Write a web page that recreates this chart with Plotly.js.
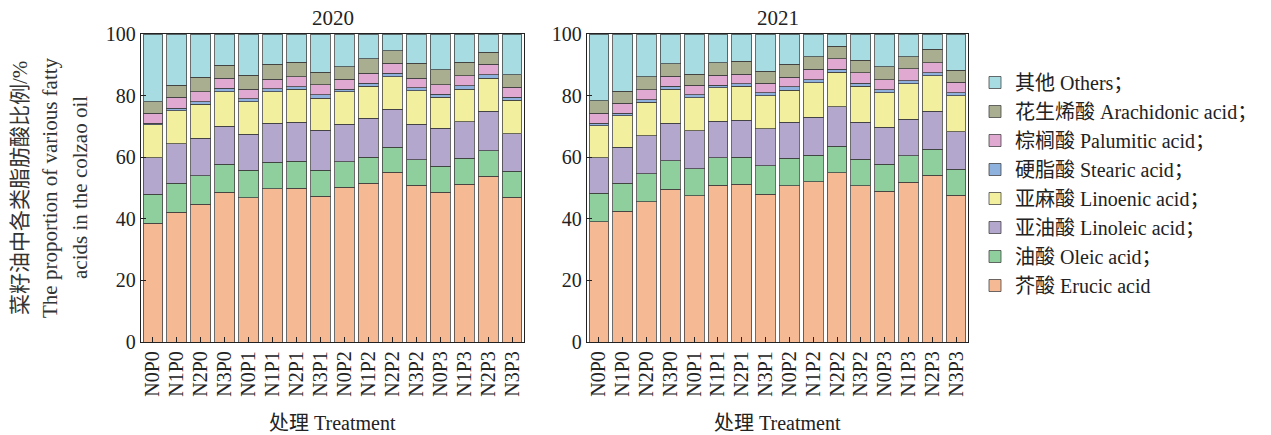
<!DOCTYPE html>
<html><head><meta charset="utf-8">
<script src="https://cdn.plot.ly/plotly-3.0.1.min.js"></script>
<style>html,body{margin:0;padding:0;background:#fff}#chart{width:1271px;height:435px}</style>
</head><body><div id="chart"></div>
<script>
const categories = ["N0P0","N1P0","N2P0","N3P0","N0P1","N1P1","N2P1","N3P1","N0P2","N1P2","N2P2","N3P2","N0P3","N1P3","N2P3","N3P3"];
const seriesNames = ["芥酸 Erucic acid","油酸 Oleic acid；","亚油酸 Linoleic acid；","亚麻酸 Linoenic acid；","硬脂酸 Stearic acid；","棕榈酸 Palumitic acid；","花生烯酸 Arachidonic acid；","其他 Others；"];
const panelTitles = ["2020","2021"];
const xTitle = "处理 Treatment";
const yTitleLines = ["菜籽油中各类脂肪酸比例/%","The proportion of various fatty","acids in the colzao oil"];

// 2020
const erucic2020 = [38.5,42.1,44.8,48.6,46.8,49.7,50.0,47.4,50.2,51.5,55.1,50.9,48.6,51.3,53.8,47.0];
const oleic2020  = [9.4,9.4,9.2,9.1,8.9,8.6,8.7,8.3,8.4,8.5,8.2,8.3,8.4,8.3,8.3,8.5];
const linoleic2020 = [11.9,12.8,12.1,12.4,11.7,12.7,12.6,13.0,12.1,12.6,12.3,11.5,12.4,11.9,12.9,12.1];
const linolenic2020 = [10.7,10.8,11.1,11.2,10.6,10.3,10.8,10.5,10.6,10.5,10.6,10.8,10.1,10.6,10.7,10.9];
const stearic2020 = [0.6,0.8,0.8,1.1,0.9,0.9,0.8,1.0,0.8,0.9,1.1,1.1,1.0,1.1,1.0,0.9];
const palmitic2020 = [3.2,3.5,3.3,3.3,3.2,3.1,3.3,3.3,3.2,3.3,3.2,3.1,3.0,3.2,3.5,3.3];
const arachidonic2020 = [3.7,3.9,4.6,4.1,4.5,4.9,4.7,4.1,4.1,4.6,4.0,4.8,4.9,4.5,3.9,4.0];
const others2020 = [22.0,16.7,14.1,10.2,13.4,9.8,9.1,12.4,10.6,8.1,5.5,9.5,11.6,9.1,5.9,13.3];

// 2021
const erucic2021 = [39.0,42.4,45.5,49.6,47.5,50.9,51.2,48.0,50.7,52.1,55.0,50.7,48.9,51.9,54.2,47.6];
const oleic2021  = [9.3,9.1,9.1,9.3,8.8,9.0,8.8,9.2,9.0,8.6,8.5,8.7,8.8,8.5,8.4,8.5];
const linoleic2021 = [11.6,11.8,12.3,12.2,12.3,11.7,12.0,12.0,11.7,12.3,12.9,12.0,12.1,12.0,12.3,12.2];
const linolenic2021 = [10.3,10.1,10.9,11.0,10.7,10.9,11.0,10.8,10.4,11.1,11.2,11.6,11.2,11.4,11.6,11.7];
const stearic2021 = [0.9,0.9,0.9,1.0,1.0,0.8,0.9,0.9,1.0,1.1,0.9,1.0,0.9,1.1,1.0,1.0];
const palmitic2021 = [3.2,3.2,3.2,3.2,3.0,3.3,3.1,3.1,3.1,3.3,3.4,3.4,3.3,3.8,3.2,3.4];
const arachidonic2021 = [4.0,3.9,4.2,4.1,3.7,4.0,4.1,3.9,4.2,4.1,4.1,4.0,4.1,3.9,4.3,3.8];
const others2021 = [21.7,18.6,13.9,9.6,13.0,9.4,8.9,12.1,9.9,7.4,4.0,8.6,10.7,7.4,5.0,11.8];

const colors = ["#f5b993","#8fcf9e","#b3a7cd","#f2f09e","#8fb1dd","#dfa9d2","#aaae91","#a7dde2"];

const data2020 = [erucic2020,oleic2020,linoleic2020,linolenic2020,stearic2020,palmitic2020,arachidonic2020,others2020];
const data2021 = [erucic2021,oleic2021,linoleic2021,linolenic2021,stearic2021,palmitic2021,arachidonic2021,others2021];

const W = 1271, H = 435;
const px = x => x / W;
const py = y => 1 - y / H;
const FONT = "Liberation Serif, Times New Roman, Noto Sans CJK SC, serif";

const traces = [];
[data2020, data2021].forEach((ds, p) => {
  ds.forEach((vals, i) => {
    traces.push({
      type: "bar",
      x: categories,
      y: vals,
      name: seriesNames[i],
      legendgroup: "g" + i,
      showlegend: p === 0,
      xaxis: p === 0 ? "x" : "x2",
      yaxis: p === 0 ? "y" : "y2",
      marker: {color: colors[i], line: {color: "rgba(60,60,60,0.75)", width: 1}},
      hoverinfo: "x+y+name"
    });
  });
});

const yTop = py(34), yBot = py(342);
const axisCommon = {
  showline: true, mirror: true, linecolor: "#222", linewidth: 1.2,
  ticks: "inside", ticklen: 5, tickcolor: "#222", showgrid: false, zeroline: false,
  tickfont: {family: FONT, size: 20, color: "#222"}
};
const xCommon = Object.assign({}, axisCommon, {
  type: "category", tickangle: -90, tickfont: {family: FONT, size: 20, color: "#222"},
  tickmode: "array", tickvals: categories, ticktext: categories,
  range: [-0.5, 15.5]
});
const yCommon = Object.assign({}, axisCommon, {range: [0, 100], tickmode: "array", tickvals: [0,20,40,60,80,100], domain: [yBot, yTop]});

const annotations = [];
const panels = [[141, 524], [587, 968]];
panels.forEach((d, p) => {
  const c = (d[0] + d[1]) / 2;
  annotations.push({xref: "paper", yref: "paper", x: px(c), y: py(18), text: panelTitles[p], showarrow: false,
    xanchor: "center", yanchor: "middle", font: {family: FONT, size: 21, color: "#222"}});
  annotations.push({xref: "paper", yref: "paper", x: px(c), y: py(423), text: xTitle, showarrow: false,
    xanchor: "center", yanchor: "middle", font: {family: FONT, size: 20, color: "#222"}});
});
const yTitleX = [20, 50, 80];
yTitleLines.forEach((t, i) => {
  annotations.push({xref: "paper", yref: "paper", x: px(yTitleX[i]), y: py(188), text: t, showarrow: false,
    textangle: -90, xanchor: "center", yanchor: "middle", font: {family: FONT, size: 21, color: "#333"}});
});

const layout = {
  width: W, height: H,
  margin: {l: 0, r: 0, t: 0, b: 0},
  paper_bgcolor: "#fff", plot_bgcolor: "#fff",
  barmode: "stack", bargap: 0.17,
  showlegend: true,
  legend: {x: px(975), y: py(63), xanchor: "left", yanchor: "top", traceorder: "reversed",
    font: {family: FONT, size: 20, color: "#222"}, tracegroupgap: 6, bgcolor: "rgba(0,0,0,0)"},
  xaxis: Object.assign({}, xCommon, {domain: [px(141), px(524)], anchor: "y"}),
  yaxis: Object.assign({}, yCommon, {anchor: "x"}),
  xaxis2: Object.assign({}, xCommon, {domain: [px(587), px(968)], anchor: "y2"}),
  yaxis2: Object.assign({}, yCommon, {anchor: "x2"}),
  annotations: annotations
};

Plotly.newPlot("chart", traces, layout, {displayModeBar: false, staticPlot: true});
</script>
</body></html>
